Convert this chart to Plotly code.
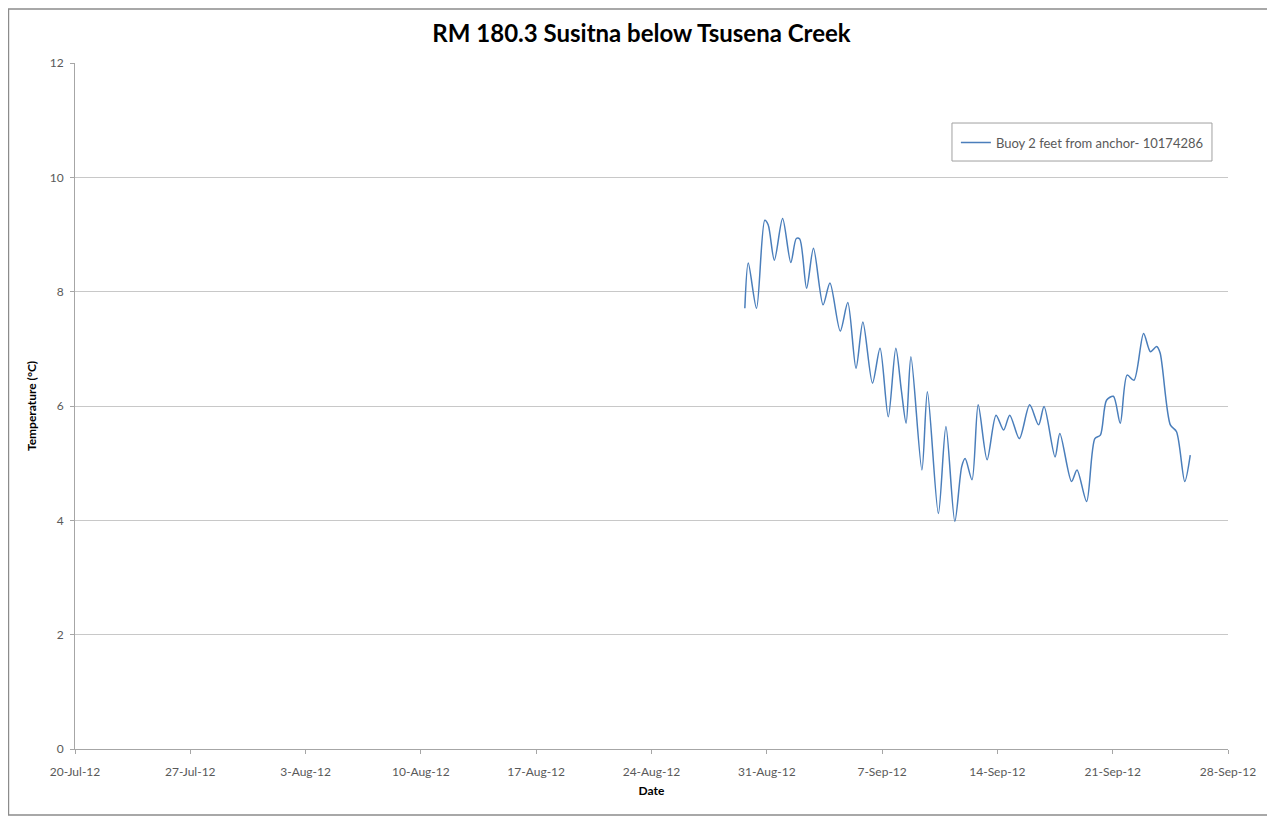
import plotly.graph_objects as go

# Buoy 2 feet from anchor - logger 10174286
times = [
    "2012-08-29 16:00", "2012-08-29 21:00", "2012-08-30 09:00", "2012-08-30 21:00",
    "2012-08-31 02:00", "2012-08-31 11:00", "2012-08-31 23:00", "2012-09-01 11:00",
    "2012-09-01 19:00", "2012-09-02 00:00", "2012-09-02 10:00", "2012-09-02 20:00",
    "2012-09-03 10:00", "2012-09-03 20:00", "2012-09-04 11:00", "2012-09-04 22:00",
    "2012-09-05 10:00", "2012-09-05 20:00", "2012-09-06 10:00", "2012-09-06 21:00",
    "2012-09-07 09:00", "2012-09-07 20:00", "2012-09-08 04:00", "2012-09-08 11:00",
    "2012-09-08 18:00", "2012-09-09 10:00", "2012-09-09 18:00", "2012-09-10 10:00",
    "2012-09-10 21:00", "2012-09-11 10:00", "2012-09-11 20:00", "2012-09-12 01:00",
    "2012-09-12 11:00", "2012-09-12 20:00", "2012-09-13 09:00", "2012-09-13 22:00",
    "2012-09-14 09:00", "2012-09-14 18:00", "2012-09-15 08:00", "2012-09-15 23:00",
    "2012-09-16 12:00", "2012-09-16 20:00", "2012-09-17 12:00", "2012-09-17 19:00",
    "2012-09-18 12:00", "2012-09-18 20:00", "2012-09-19 10:00", "2012-09-19 22:00",
    "2012-09-20 06:00", "2012-09-20 15:00", "2012-09-21 01:00", "2012-09-21 11:00",
    "2012-09-21 21:00", "2012-09-22 07:00", "2012-09-22 21:00", "2012-09-23 07:00",
    "2012-09-23 16:00", "2012-09-23 21:00", "2012-09-24 12:00", "2012-09-24 21:00",
    "2012-09-25 09:00", "2012-09-25 17:00",
]
temps = [
    7.71, 8.50, 7.71, 9.25,
    9.17, 8.55, 9.28, 8.51,
    8.93, 8.92, 8.06, 8.76,
    7.77, 8.15, 7.31, 7.81,
    6.66, 7.47, 6.40, 7.01,
    5.81, 7.01, 6.28, 5.70,
    6.86, 4.88, 6.25, 4.12,
    5.64, 3.98, 4.94, 5.08,
    4.71, 6.02, 5.06, 5.84,
    5.58, 5.84, 5.43, 6.02,
    5.67, 5.99, 5.11, 5.52,
    4.68, 4.88, 4.33, 5.43,
    5.49, 6.10, 6.17, 5.70,
    6.54, 6.45, 7.27, 6.95,
    7.04, 6.93, 5.67, 5.55,
    4.68, 5.14,
]
series_name = "Buoy 2 feet from anchor- 10174286"

fig = go.Figure()
fig.add_trace(go.Scatter(
    x=times, y=temps, mode="lines", name=series_name,
    line=dict(color="#4a7ebb", width=1.5, shape="spline", smoothing=0.8),
))

font = "Lato, 'Open Sans', sans-serif"
fig.update_layout(
    width=1267, height=809,
    margin=dict(l=67, r=47, t=55, b=68),
    paper_bgcolor="white", plot_bgcolor="white",
    font=dict(family=font, size=12, color="#595959"),
    title=dict(text="<b>RM 180.3 Susitna below Tsusena Creek</b>", x=0.5, xanchor="center",
               y=0.968, yanchor="middle", font=dict(size=24, color="#000000")),
    showlegend=True,
    legend=dict(x=0.764, y=0.884, xanchor="left", yanchor="middle",
                borderwidth=0, bgcolor="rgba(0,0,0,0)",
                font=dict(size=13, color="#595959"),
                itemwidth=30, tracegroupgap=0),
)
fig.update_xaxes(
    type="date", range=["2012-07-20", "2012-09-28"],
    tick0="2012-07-20", dtick=7 * 86400000, tickformat="%-d-%b-%y",
    showgrid=False, showline=True, linecolor="#a6a6a6", linewidth=1,
    ticks="outside", ticklen=4, tickcolor="#a6a6a6", ticklabelstandoff=8,
    title=dict(text="<b>Date</b>", font=dict(size=12, color="#000000"), standoff=8),
)
fig.update_yaxes(
    range=[0, 12], dtick=2, showgrid=True, gridcolor="#c8c8c8", gridwidth=1,
    showline=True, linecolor="#a6a6a6", linewidth=1,
    ticks="outside", ticklen=4, tickcolor="#a6a6a6", zeroline=False, ticklabelstandoff=4,
    title=dict(text="<b>Temperature (°C)</b>", font=dict(size=12, color="#000000"), standoff=10),
)
# legend box (drawn to match the taller frame of the original)
fig.add_shape(type="rect", xref="paper", yref="paper",
              x0=0.7606, x1=0.9861, y0=0.8571, y1=0.9125,
              line=dict(color="#a0a0a0", width=1), fillcolor="white", layer="below")
# outer chart frame
fig.add_shape(type="rect", xref="paper", yref="paper",
              x0=-0.0577, x1=1.0373, y0=-0.0962, y1=1.0787,
              line=dict(color="#8c8c8c", width=1.5), layer="below")

fig.write_html("out.html")
